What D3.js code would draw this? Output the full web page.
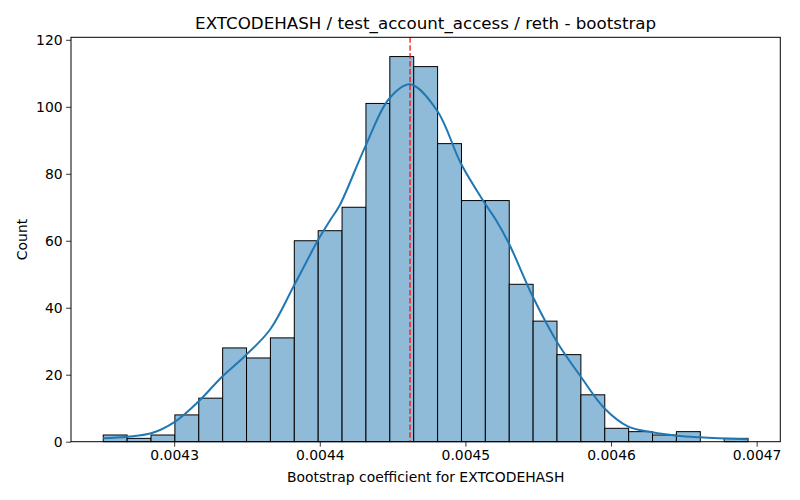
<!DOCTYPE html>
<html>
<head>
<meta charset="utf-8">
<script src="https://cdn.jsdelivr.net/npm/d3@7"></script>
<style>
  body { margin: 0; background: #fff; }
  svg { font-family: "DejaVu Sans", sans-serif; }
</style>
</head>
<body>
<svg id="main-svg" width="800" height="500"></svg>
<script>
// histogram bins (left edges, common width) and counts
var binStart = 0.0042513
var binWidth = 0.0000164
var counts = [2, 1, 2, 8, 13, 28, 25, 31, 60, 63, 70, 101, 115, 112, 89, 72, 72, 47, 36, 26, 14, 4, 3, 2, 3, 0, 1]

// kde curve (x in coefficient units, y in counts)
var kdeX = [0.0042513, 0.0042677, 0.0042842, 0.0043007, 0.0043165, 0.0043329, 0.0043494, 0.0043659,
            0.0043824, 0.0043988, 0.0044069, 0.0044137, 0.0044316, 0.0044476, 0.0044620, 0.0044805,
            0.0044970, 0.0045135, 0.0045213, 0.0045299, 0.0045464, 0.0045629, 0.0045793, 0.0045954,
            0.0046119, 0.0046283, 0.0046448, 0.0046613, 0.0046940]
var kdeY = [1.0, 1.5, 2.5, 6.0, 11.9, 19.4, 25.9, 33.5,
            46.7, 60.2, 66.0, 70.6, 88.5, 102.4, 106.7, 98.9,
            83.0, 71.1, 66.0, 59.2, 43.2, 29.8, 19.4, 10.0,
            4.5, 2.8, 1.8, 1.3, 0.7]

// dashed marker line (mean)
var meanLine = [0.004462]

var xTicks = [0.0043, 0.0044, 0.0045, 0.0046, 0.0047]
var yTicks = [0, 20, 40, 60, 80, 100, 120]

var title = 'EXTCODEHASH / test_account_access / reth - bootstrap'
var xLabel = 'Bootstrap coefficient for EXTCODEHASH'
var yLabel = 'Count'

var svg = d3.select('#main-svg')
var axL = 71, axR = 780.3, axT = 37.3, axB = 441.7

var binEnd = binStart + binWidth * counts.length
var pad = (binEnd - binStart) * 0.05
var x = d3.scaleLinear().domain([binStart - pad, binEnd + pad]).range([axL, axR])
var y = d3.scaleLinear().domain([0, d3.max(counts) * 1.05]).range([axB, axT])

var bins = counts.map(function(c, i) {
    return { x0: binStart + i * binWidth, x1: binStart + (i + 1) * binWidth, n: c }
})

var plot = svg.append('g')

plot.selectAll('rect.bar')
    .data(bins)
    .enter().append('rect')
    .attr('class', 'bar')
    .attr('x', function(d) { return x(d.x0) })
    .attr('width', function(d) { return x(d.x1) - x(d.x0) })
    .attr('y', function(d) { return y(d.n) })
    .attr('height', function(d) { return y(0) - y(d.n) })
    .attr('fill', '#8fbbd9')
    .attr('stroke', function(d) { return d.n > 0 ? '#000' : 'none' })
    .attr('stroke-width', 1)

var kde = kdeX.map(function(v, i) { return [v, kdeY[i]] })
plot.append('path')
    .datum(kde)
    .attr('fill', 'none')
    .attr('stroke', '#1f77b4')
    .attr('stroke-width', 2)
    .attr('d', d3.line()
        .x(function(d) { return x(d[0]) })
        .y(function(d) { return y(d[1]) })
        .curve(d3.curveCatmullRom.alpha(0.5)))

plot.selectAll('line.mean')
    .data(meanLine)
    .enter().append('line')
    .attr('class', 'mean')
    .attr('x1', function(d) { return x(d) })
    .attr('x2', function(d) { return x(d) })
    .attr('y1', axT)
    .attr('y2', axB)
    .attr('stroke', 'red')
    .attr('stroke-width', 1.2)
    .attr('stroke-dasharray', '5.5,2.4')

// axes
var xAxis = svg.append('g')
    .attr('transform', 'translate(0,' + axB + ')')
    .call(d3.axisBottom(x).tickValues(xTicks).tickFormat(d3.format('.4f')).tickSizeOuter(0).tickSize(4.9).tickPadding(3.5))
var yAxis = svg.append('g')
    .attr('transform', 'translate(' + axL + ',0)')
    .call(d3.axisLeft(y).tickValues(yTicks).tickFormat(d3.format('d')).tickSizeOuter(0).tickSize(4.9).tickPadding(3.5))

;[xAxis, yAxis].forEach(function(a) {
    a.select('.domain').remove()
    a.selectAll('.tick line').attr('stroke', '#000').attr('stroke-width', 0.8)
    a.selectAll('.tick text').attr('fill', '#000').style('font-size', '13.9px').style('font-family', '"DejaVu Sans", sans-serif')
})

// frame
svg.append('rect')
    .attr('x', axL).attr('y', axT)
    .attr('width', axR - axL).attr('height', axB - axT)
    .attr('fill', 'none').attr('stroke', '#000').attr('stroke-width', 1)

svg.append('text')
    .attr('x', (axL + axR) / 2).attr('y', 29)
    .attr('text-anchor', 'middle')
    .style('font-size', '16.7px')
    .text(title)

svg.append('text')
    .attr('x', (axL + axR) / 2).attr('y', 482)
    .attr('text-anchor', 'middle')
    .style('font-size', '13.9px')
    .text(xLabel)

svg.append('text')
    .attr('transform', 'translate(27,' + ((axT + axB) / 2) + ') rotate(-90)')
    .attr('text-anchor', 'middle')
    .style('font-size', '13.9px')
    .text(yLabel)
</script>
</body>
</html>
